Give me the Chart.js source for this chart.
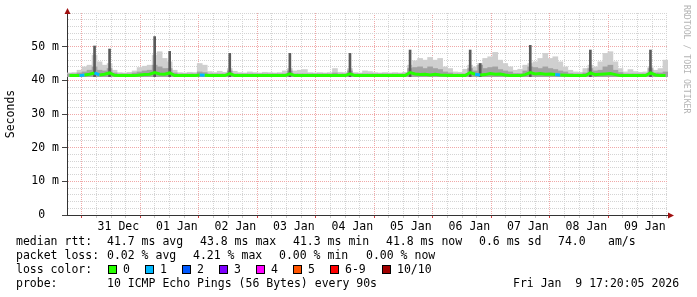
<!DOCTYPE html>
<html>
<head>
<meta charset="utf-8">
<script src="https://cdn.jsdelivr.net/npm/chart.js@4/dist/chart.umd.min.js"></script>
<style>
  body { margin: 0; background: #fff; }
  canvas { display: block; }
</style>
</head>
<body>
<canvas id="grafico" width="697" height="297"></canvas>
<script>
// 2 hour buckets, starting at 30 Dec 18:00 (hours counted from 31 Dec 00:00)
var slotHours = [];
for (var h = -6; h < 234; h += 2) slotHours.push(h);

var dayLabels = ['31 Dec', '01 Jan', '02 Jan', '03 Jan', '04 Jan', '05 Jan', '06 Jan', '07 Jan', '08 Jan', '09 Jan'];

// median rtt (ms) per bucket
var median = [
  41.4, 41.4, 41.4, 41.6, 41.8, 42.2, 41.6, 41.8, 42.2, 41.5,
  41.4, 41.4, 41.4, 41.4, 41.6, 41.7, 41.8, 42.3, 41.9, 41.8,
  42.2, 41.4, 41.4, 41.4, 41.4, 41.4, 41.6, 41.5, 41.4, 41.4,
  41.4, 41.4, 42.0, 41.4, 41.4, 41.4, 41.4, 41.4, 41.4, 41.4,
  41.4, 41.4, 41.4, 41.4, 41.9, 41.4, 41.4, 41.4, 41.4, 41.4,
  41.4, 41.4, 41.4, 41.4, 41.4, 41.4, 41.9, 41.4, 41.4, 41.4,
  41.4, 41.4, 41.4, 41.4, 41.4, 41.4, 41.4, 41.4, 42.3, 41.9,
  41.7, 41.8, 41.6, 41.8, 41.6, 41.5, 41.4, 41.4, 41.4, 41.4,
  42.3, 41.8, 41.6, 41.7, 42.0, 41.8, 41.9, 41.6, 41.4, 41.4,
  41.4, 41.7, 42.3, 41.9, 42.0, 41.8, 41.9, 41.7, 41.6, 41.5,
  41.4, 41.4, 41.4, 41.4, 42.2, 41.7, 41.8, 41.9, 42.0, 41.7,
  41.4, 41.4, 41.4, 41.4, 41.4, 41.4, 42.2, 41.6, 41.4, 41.4
];

// highest ping of the bucket (light smoke)
var smokeHi = [
  42.2, 42.3, 43.0, 44.0, 44.5, 47.5, 45.5, 44.5, 45.0, 43.0,
  42.3, 42.2, 42.4, 42.8, 43.8, 44.2, 44.5, 47.5, 48.5, 46.5,
  45.5, 43.0, 42.3, 42.2, 42.4, 42.3, 45.0, 44.5, 42.6, 42.3,
  42.7, 42.4, 43.5, 42.7, 42.3, 42.2, 42.5, 42.3, 42.2, 42.4,
  42.3, 42.2, 42.3, 42.8, 43.5, 42.8, 43.0, 43.2, 42.3, 42.2,
  42.3, 42.2, 42.3, 43.5, 42.4, 42.3, 43.5, 42.3, 42.2, 42.8,
  42.6, 42.3, 42.2, 42.3, 42.2, 42.3, 42.2, 42.4, 44.5, 45.8,
  46.5, 46.0, 46.8, 46.0, 46.5, 44.0, 43.5, 42.5, 42.4, 43.3,
  44.5, 44.0, 45.0, 46.5, 47.0, 48.3, 46.0, 45.0, 44.0, 43.0,
  43.3, 44.5, 45.0, 45.5, 46.5, 48.0, 46.5, 47.0, 45.5, 44.0,
  43.0, 42.5, 42.4, 43.5, 44.5, 44.0, 45.5, 48.0, 48.5, 45.5,
  43.5, 42.5, 43.2, 42.6, 42.4, 42.5, 44.0, 43.0, 43.5, 46.0
];

// middle pings (darker smoke)
var smokeMid = [
  41.9, 41.9, 42.2, 42.5, 43.0, 44.0, 43.0, 42.8, 43.5, 42.2,
  41.9, 41.9, 41.9, 42.2, 42.5, 42.8, 43.0, 44.5, 44.0, 43.5,
  43.5, 42.2, 41.9, 41.9, 41.9, 41.9, 42.5, 42.3, 41.9, 41.9,
  41.9, 41.9, 42.8, 41.9, 41.9, 41.9, 41.9, 41.9, 41.9, 41.9,
  41.9, 41.9, 41.9, 41.9, 42.8, 41.9, 41.9, 41.9, 41.9, 41.9,
  41.9, 41.9, 41.9, 42.2, 41.9, 41.9, 42.8, 41.9, 41.9, 41.9,
  41.9, 41.9, 41.9, 41.9, 41.9, 41.9, 41.9, 41.9, 43.5, 43.8,
  44.0, 43.5, 44.0, 43.5, 43.2, 42.5, 42.2, 41.9, 41.9, 41.9,
  43.5, 42.8, 44.5, 43.5, 43.8, 44.0, 43.2, 42.8, 42.5, 42.0,
  42.0, 42.8, 44.0, 43.8, 43.5, 44.0, 43.5, 43.2, 42.8, 42.5,
  42.0, 41.9, 41.9, 42.2, 43.5, 42.8, 43.0, 44.0, 44.5, 43.0,
  42.3, 41.9, 41.9, 41.9, 41.9, 41.9, 43.5, 42.2, 42.2, 42.5
];

// narrow dark spikes (daily)
var spikeTop = [
  null, null, null, null, null, 50.2, null, null, 49.3, null,
  null, null, null, null, null, null, null, 53.0, null, null,
  48.6, null, null, null, null, null, null, null, null, null,
  null, null, 48.0, null, null, null, null, null, null, null,
  null, null, null, null, 48.0, null, null, null, null, null,
  null, null, null, null, null, null, 48.0, null, null, null,
  null, null, null, null, null, null, null, null, 49.0, null,
  null, null, null, null, null, null, null, null, null, null,
  49.0, null, 45.0, null, null, null, null, null, null, null,
  null, null, 50.4, null, null, null, null, null, null, null,
  null, null, null, null, 49.0, null, null, null, null, null,
  null, null, null, null, null, null, 49.0, null, null, null
];

// lost pings per bucket (out of 10)
var loss = [
  0, 0, 0, 1, 0, 0, 1, 0, 0, 0,
  0, 0, 0, 0, 0, 0, 0, 0, 0, 0,
  0, 0, 0, 0, 0, 0, 0, 1, 0, 0,
  0, 0, 0, 0, 0, 0, 0, 0, 0, 0,
  0, 0, 0, 0, 0, 0, 0, 0, 0, 0,
  0, 0, 0, 0, 0, 0, 0, 0, 0, 0,
  0, 0, 0, 0, 0, 0, 0, 0, 0, 0,
  0, 0, 0, 0, 0, 0, 0, 0, 0, 0,
  0, 0, 1, 0, 0, 0, 0, 0, 0, 0,
  0, 0, 0, 0, 0, 0, 0, 0, 1, 0,
  0, 0, 0, 0, 0, 0, 0, 0, 0, 0,
  0, 0, 0, 0, 0, 0, 0, 0, 0, 0
];

var lossNames = ['0', '1', '2', '3', '4', '5', '6-9', '10/10'];
var lossColors = ['#26ff00', '#00b8ff', '#0059ff', '#7e00ff', '#ff00ff', '#ff5500', '#ff0000', '#a10000'];

var MONO = '"DejaVu Sans Mono", monospace';
var smokeLo = 41.1;

// testi sotto il grafico
var legendLines = [
  { y: 245, parts: [[16, 'median rtt:'], [107, '41.7 ms avg'], [200, '43.8 ms max'], [293, '41.3 ms min'], [386, '41.8 ms now'], [479, '0.6 ms sd'], [558, '74.0'], [608, 'am/s']] },
  { y: 259, parts: [[16, 'packet loss:'], [107, '0.02 % avg'], [193, '4.21 % max'], [279, '0.00 % min'], [366, '0.00 % now']] },
  { y: 273, parts: [[16, 'loss color:']] },
  { y: 287, parts: [[16, 'probe:'], [107, '10 ICMP Echo Pings (56 Bytes) every 90s'], [513, 'Fri Jan  9 17:20:05 2026']] }
];
var swatchX = [108, 145, 182, 219, 256, 293, 330, 382];

var decorPlugin = {
  id: 'decor',
  afterDraw: function(chart) {
    var ctx = chart.ctx;
    var a = chart.chartArea;
    ctx.save();
    // frecce degli assi
    ctx.fillStyle = '#a01010';
    ctx.beginPath();
    ctx.moveTo(a.left + 0.5, a.top - 5);
    ctx.lineTo(a.left - 2.5, a.top + 1);
    ctx.lineTo(a.left + 3.5, a.top + 1);
    ctx.fill();
    ctx.beginPath();
    ctx.moveTo(a.right + 6, a.bottom + 0.5);
    ctx.lineTo(a.right, a.bottom - 2.5);
    ctx.lineTo(a.right, a.bottom + 3.5);
    ctx.fill();

    ctx.fillStyle = '#000';
    ctx.font = '11.5px ' + MONO;
    ctx.textBaseline = 'alphabetic';
    ctx.textAlign = 'left';
    legendLines.forEach(function(line) {
      line.parts.forEach(function(p) { ctx.fillText(p[1], p[0], line.y); });
    });
    lossNames.forEach(function(name, i) {
      var x = swatchX[i];
      ctx.fillStyle = lossColors[i];
      ctx.fillRect(x, 265, 8, 8);
      ctx.strokeStyle = '#000';
      ctx.lineWidth = 1;
      ctx.strokeRect(x + 0.5, 265.5, 8, 8);
      ctx.fillStyle = '#000';
      ctx.fillText(name, x + 15, 273);
    });

    // titolo asse y
    ctx.save();
    ctx.translate(14, 114);
    ctx.rotate(-Math.PI / 2);
    ctx.textAlign = 'center';
    ctx.fillText('Seconds', 0, 0);
    ctx.restore();

    // watermark
    ctx.save();
    ctx.translate(684, 5);
    ctx.rotate(Math.PI / 2);
    ctx.fillStyle = '#b4b4b4';
    ctx.font = '8.2px ' + MONO;
    ctx.textAlign = 'left';
    ctx.fillText('RRDTOOL / TOBI OETIKER', 0, 0);
    ctx.restore();
    ctx.restore();
  }
};

var majorGrid = '#f0a8a8';
var minorGrid = '#d4d4d4';

var chart = new Chart(document.getElementById('grafico'), {
  type: 'bar',
  data: {
    labels: slotHours,
    datasets: [
      {
        type: 'line',
        label: 'median',
        data: median,
        borderColor: lossColors[0],
        borderWidth: 3,
        pointRadius: 0,
        tension: 0,
        order: 0,
        segment: {
          borderColor: function(c) { return lossColors[loss[c.p1DataIndex]]; }
        }
      },
      {
        label: 'spikes',
        data: spikeTop.map(function(v) { return v === null ? null : [smokeLo, v]; }),
        backgroundColor: '#5a5a5a',
        barThickness: 2,
        grouped: false,
        order: 1
      },
      {
        label: 'mid',
        data: smokeMid.map(function(v) { return [smokeLo, v]; }),
        backgroundColor: '#a2a2a2',
        barPercentage: 1,
        categoryPercentage: 1,
        grouped: false,
        order: 2
      },
      {
        label: 'hi',
        data: smokeHi.map(function(v) { return [smokeLo, v]; }),
        backgroundColor: '#cfcfcf',
        barPercentage: 1,
        categoryPercentage: 1,
        grouped: false,
        order: 3
      }
    ]
  },
  options: {
    responsive: false,
    animation: false,
    devicePixelRatio: 1,
    layout: { padding: { left: 0, top: 13, right: 29, bottom: 0 } },
    plugins: { legend: { display: false }, tooltip: { enabled: false } },
    scales: {
      x: { type: 'category', display: false, offset: true },
      xt: {
        type: 'linear',
        position: 'bottom',
        min: -6,
        max: 234.4,
        afterFit: function(s) { s.height = 82; },
        afterBuildTicks: function(s) {
          var t = [];
          for (var h = 0; h <= 234; h += 6) t.push({ value: h });
          s.ticks = t;
        },
        ticks: {
          autoSkip: false,
          maxRotation: 0,
          padding: 2,
          color: '#000',
          font: { family: MONO, size: 11.5 },
          callback: function(v) { return v % 24 === 12 ? dayLabels[(v - 12) / 24] : ''; }
        },
        grid: {
          color: function(c) { return c.tick && c.tick.value % 24 === 0 ? majorGrid : minorGrid; },
          tickColor: function(c) { return c.tick && c.tick.value % 24 === 0 ? '#d04040' : '#c8c8c8'; },
          tickLength: 3,
          lineWidth: 1
        },
        border: { display: true, color: '#333', width: 1, dash: [1, 1] }
      },
      y: {
        min: 0,
        max: 60,
        afterFit: function(s) { s.width = 67; },
        ticks: {
          stepSize: 2,
          autoSkip: false,
          padding: 3,
          color: '#000',
          font: { family: MONO, size: 11.5 },
          callback: function(v) {
            if (v % 10 !== 0 || v >= 60) return '';
            return v === 0 ? '0  ' : v + ' m';
          }
        },
        grid: {
          color: function(c) {
            var v = c.tick ? c.tick.value : 0;
            if (v === 0) return 'rgba(0,0,0,0)';
            return v % 10 === 0 && v < 60 ? majorGrid : minorGrid;
          },
          tickColor: function(c) {
            var v = c.tick ? c.tick.value : 0;
            return v % 10 === 0 && v < 60 ? '#444' : 'rgba(0,0,0,0)';
          },
          tickLength: 5,
          lineWidth: 1
        },
        border: { display: true, color: '#333', width: 1, dash: [1, 1] }
      }
    }
  },
  plugins: [decorPlugin]
});
</script>
</body>
</html>
